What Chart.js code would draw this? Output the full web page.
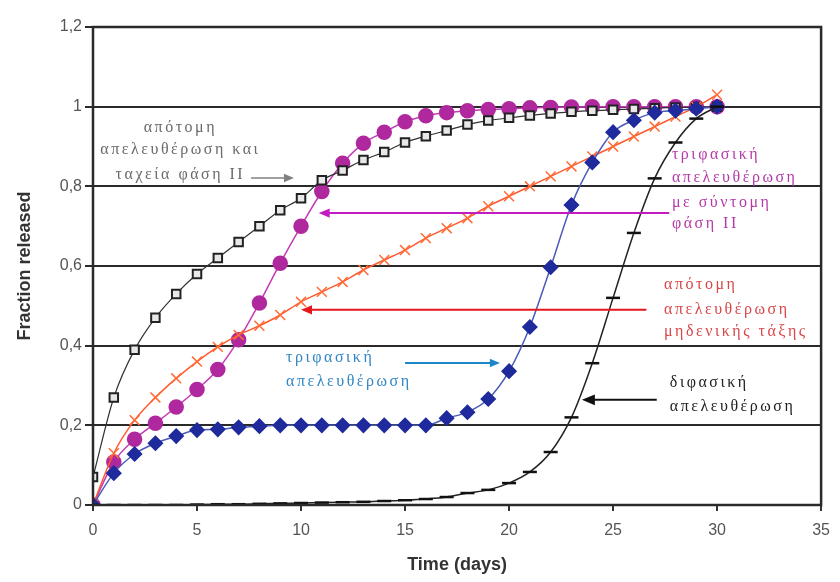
<!DOCTYPE html>
<html><head><meta charset="utf-8">
<script src="https://cdn.jsdelivr.net/npm/chart.js@4/dist/chart.umd.min.js"></script>
<style>html,body{margin:0;padding:0;background:#fff}#wrap{width:840px;height:582px}</style>
</head><body><div id="wrap"><canvas id="c" width="840" height="582"></canvas></div>
<script>
const days = [0,1,2,3,4,5,6,7,8,9,10,11,12,13,14,15,16,17,18,19,20,21,22,23,24,25,26,27,28,29,30];
const abruptFast = [0.07,0.27,0.39,0.47,0.53,0.58,0.62,0.66,0.70,0.74,0.77,0.815,0.84,0.866,0.886,0.91,0.926,0.94,0.955,0.965,0.972,0.978,0.983,0.987,0.99,0.992,0.994,0.996,0.998,0.999,1.0];
const triphasicShort = [0,0.108,0.165,0.205,0.246,0.29,0.34,0.415,0.507,0.607,0.70,0.787,0.858,0.908,0.936,0.962,0.977,0.985,0.99,0.993,0.995,0.997,0.998,0.999,1,1,1,1,1,1,1];
const abruptZero = [0,0.13,0.213,0.27,0.318,0.36,0.397,0.427,0.45,0.477,0.51,0.535,0.56,0.59,0.615,0.64,0.67,0.695,0.72,0.75,0.775,0.80,0.825,0.85,0.875,0.90,0.925,0.95,0.975,1.0,1.03];
const triphasic = [0,0.08,0.128,0.155,0.173,0.188,0.19,0.195,0.198,0.2,0.2,0.2,0.2,0.2,0.2,0.2,0.2,0.218,0.233,0.266,0.336,0.447,0.597,0.753,0.86,0.936,0.966,0.985,0.99,0.995,1.0];
const biphasic = [0,0,0,0,0,0.001,0.002,0.002,0.003,0.004,0.005,0.006,0.007,0.008,0.01,0.012,0.015,0.02,0.03,0.038,0.055,0.083,0.133,0.22,0.356,0.52,0.683,0.82,0.91,0.97,1.0];
const yTicks = [0,0.2,0.4,0.6,0.8,1,1.2];
const xTitle = "Time (days)";
const yTitle = "Fraction released";

const notes = [
  {lines:["απότομη","απελευθέρωση και","ταχεία φάση II"], x:4.2, ys:[0.946,0.891,0.828], align:"center", color:"#6a6a6a"},
  {lines:["τριφασική","απελευθέρωση","με σύντομη","φάση II"], x:27.83, ys:[0.879,0.821,0.758,0.705], align:"left", color:"#b53aa8"},
  {lines:["απότομη","απελευθέρωση","μηδενικής τάξης"], x:27.45, ys:[0.552,0.490,0.434], align:"left", color:"#d8474a"},
  {lines:["τριφασική","απελευθέρωση"], x:9.28, ys:[0.369,0.309], align:"left", color:"#2f86c4"},
  {lines:["διφασική","απελευθέρωση"], x:27.73, ys:[0.306,0.246], align:"left", color:"#222"}
];
const arrows = [
  {x1:7.6, x2:9.66, y:0.821, color:"#808080", w:1.5, head:10},
  {x1:27.7, x2:10.85, y:0.733, color:"#c21bc2", w:2, head:11},
  {x1:26.6, x2:10.0, y:0.490, color:"#e3171c", w:2, head:11},
  {x1:15.0, x2:19.56, y:0.3565, color:"#1d86c8", w:2, head:10},
  {x1:27.1, x2:23.5, y:0.264, color:"#111", w:2, head:13}
];

const pts = arr => days.map((d,i)=>({x:d,y:arr[i]}));

const annot = {
  id:'annot',
  afterDatasetsDraw(chart){
    const {ctx, scales:{x,y}, chartArea:a} = chart;
    ctx.save();
    ctx.font = '16px "Liberation Serif"';
    ctx.textBaseline = 'middle';
    try{ctx.letterSpacing='2.5px';}catch(e){}
    notes.forEach(n=>{
      ctx.fillStyle = n.color; ctx.textAlign = n.align;
      n.lines.forEach((t,i)=>ctx.fillText(t, x.getPixelForValue(n.x), y.getPixelForValue(n.ys[i])));
    });
    try{ctx.letterSpacing='0px';}catch(e){}
    arrows.forEach(ar=>{
      const px1=x.getPixelForValue(ar.x1), px2=x.getPixelForValue(ar.x2), py=y.getPixelForValue(ar.y);
      const dir = Math.sign(px2-px1);
      ctx.strokeStyle=ar.color; ctx.fillStyle=ar.color; ctx.lineWidth=ar.w;
      ctx.beginPath(); ctx.moveTo(px1,py); ctx.lineTo(px2-dir*ar.head*0.8,py); ctx.stroke();
      ctx.beginPath(); ctx.moveTo(px2,py); ctx.lineTo(px2-dir*ar.head, py-ar.head*0.42); ctx.lineTo(px2-dir*ar.head, py+ar.head*0.42); ctx.closePath(); ctx.fill();
    });
    ctx.strokeStyle='#2a2a2a'; ctx.lineWidth=2.5;
    ctx.strokeRect(a.left, a.top, a.right-a.left, a.bottom-a.top);
    ctx.restore();
  }
};

new Chart(document.getElementById('c'), {
  type:'scatter',
  data:{datasets:[
    {label:'διφασική', data:pts(biphasic), showLine:true, borderColor:'#222', borderWidth:1.5, pointStyle:'line', pointRadius:7, pointBorderWidth:2.5, pointBorderColor:'#111', cubicInterpolationMode:'monotone'},
    {label:'τριφασική', data:pts(triphasic), showLine:true, borderColor:'#4a5ab8', borderWidth:1.5, pointStyle:'rectRot', pointRadius:7, pointBackgroundColor:'#1f2a9c', pointBorderColor:'#1f2a9c', cubicInterpolationMode:'monotone'},
    {label:'μηδενικής τάξης', data:pts(abruptZero), showLine:true, borderColor:'#ff5a2e', borderWidth:1.5, pointStyle:'crossRot', pointRadius:7, pointBorderWidth:1.5, pointBorderColor:'#ff6a35', cubicInterpolationMode:'monotone'},
    {label:'ταχεία φάση II', data:pts(abruptFast), showLine:true, borderColor:'#333', borderWidth:1.2, pointStyle:'rect', pointRadius:6, pointBorderWidth:2, pointBackgroundColor:'#e8e8e8', pointBorderColor:'#222', cubicInterpolationMode:'monotone'},
    {label:'σύντομη φάση II', data:pts(triphasicShort), showLine:true, borderColor:'#c43bb8', borderWidth:1.5, pointStyle:'circle', pointRadius:7, pointBackgroundColor:'#b0289e', pointBorderColor:'#b0289e', cubicInterpolationMode:'monotone'}
  ]},
  options:{
    responsive:false, animation:false,
    layout:{padding:{top:27,right:11,left:0,bottom:0}},
    plugins:{legend:{display:false}, tooltip:{enabled:false}},
    scales:{
      x:{type:'linear', min:0, max:35,
        afterFit(s){s.height=77;},
        ticks:{stepSize:5, color:'#555', padding:10, font:{family:'"Liberation Sans", Arial', size:16}},
        grid:{drawOnChartArea:false, color:'#333', lineWidth:2, tickLength:6},
        border:{display:false},
        title:{display:true, text:xTitle, color:'#333', font:{family:'"Liberation Sans", Arial', size:18, weight:'bold'}, padding:{top:4,bottom:6}}
      },
      y:{type:'linear', min:0, max:1.2,
        afterFit(s){s.width=93;},
        afterBuildTicks(s){s.ticks = yTicks.map(v=>({value:v}));},
        ticks:{color:'#555', padding:3, font:{family:'"Liberation Sans", Arial', size:16},
          callback:v=>String(Math.round(v*10)/10).replace('.',',')},
        grid:{color:'#2a2a2a', lineWidth:2, tickLength:8},
        border:{display:false},
        title:{display:true, text:yTitle, color:'#333', font:{family:'"Liberation Sans", Arial', size:18, weight:'bold'}, padding:{top:14,bottom:4}}
      }
    }
  },
  plugins:[annot]
});
</script></body></html>
